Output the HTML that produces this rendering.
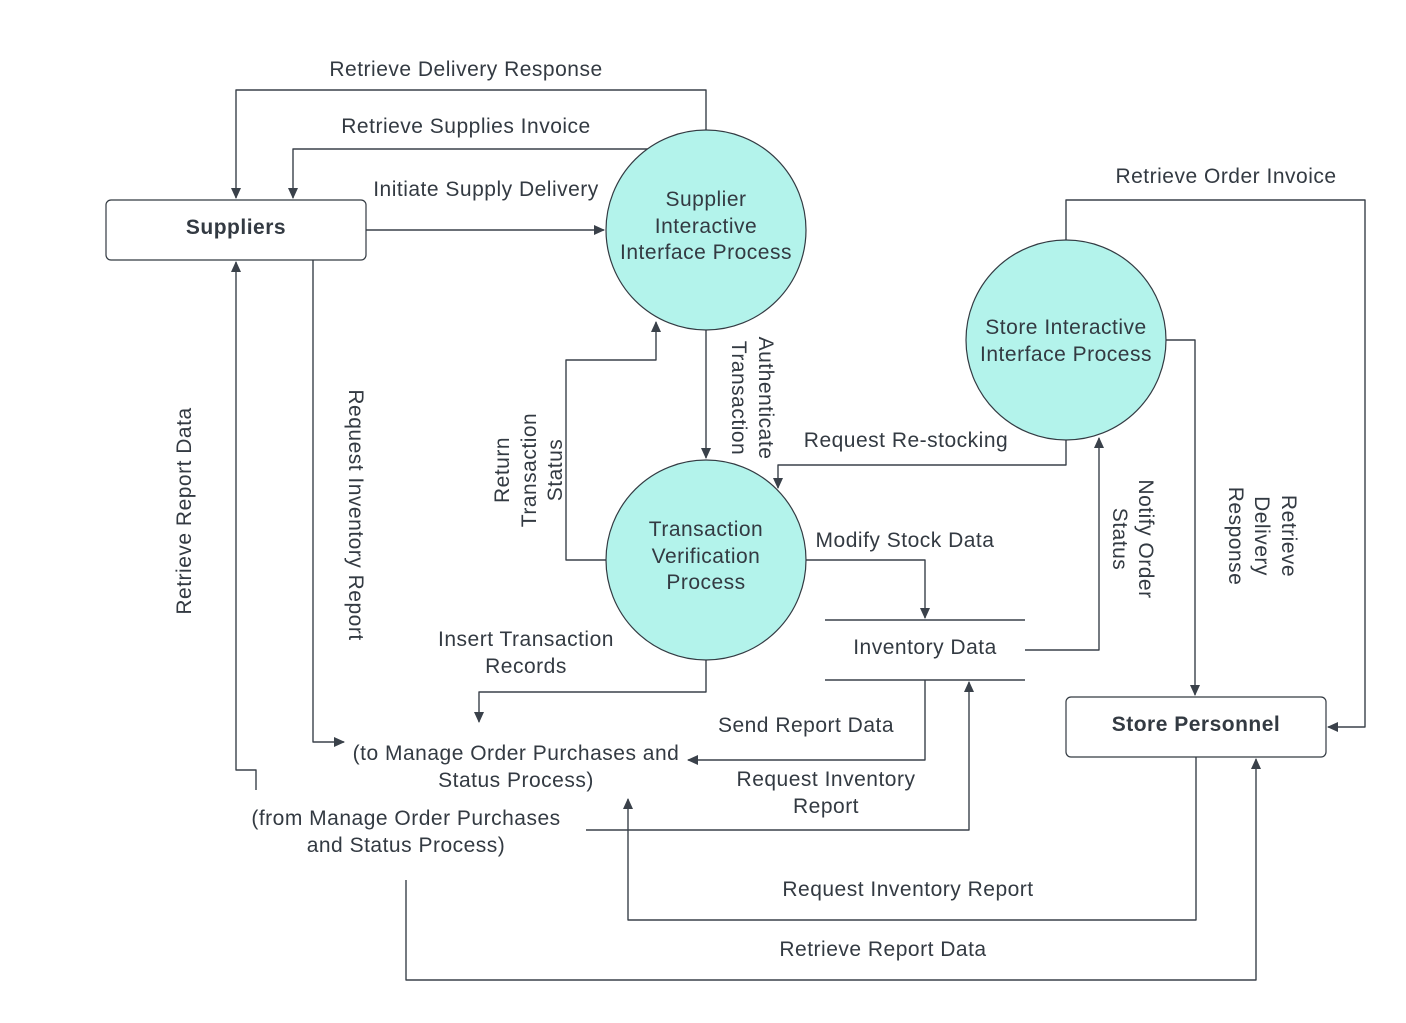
<!DOCTYPE html>
<html><head><meta charset="utf-8"><style>
html,body{margin:0;padding:0;background:#fff}
svg{display:block}
text{font-family:"Liberation Sans",Arial,sans-serif;font-size:21px;letter-spacing:0.5px;fill:#333a42}
</style></head><body>
<svg width="1406" height="1023" viewBox="0 0 1406 1023" xmlns="http://www.w3.org/2000/svg">
<defs><marker id="a" markerWidth="12" markerHeight="12" refX="10" refY="6" orient="auto" markerUnits="userSpaceOnUse"><path d="M0,1 L11,6 L0,11 Z" fill="#3a414a"/></marker></defs>
<g fill="none" stroke="#3a414a" stroke-width="1.4" stroke-linejoin="round">
<path d="M706,130 V90 H236 V198" marker-end="url(#a)"/>
<path d="M650,149 H293 V198" marker-end="url(#a)"/>
<path d="M366,230 H604" marker-end="url(#a)"/>
<path d="M313,260 V742 H344" marker-end="url(#a)"/>
<path d="M256,790 V770 H236 V262" marker-end="url(#a)"/>
<path d="M606,560 H566 V360 H656 V322" marker-end="url(#a)"/>
<path d="M706,330 V458" marker-end="url(#a)"/>
<path d="M1066,440 V465 H778 V488" marker-end="url(#a)"/>
<path d="M806,560 H925 V618" marker-end="url(#a)"/>
<path d="M1025,650 H1099 V438" marker-end="url(#a)"/>
<path d="M1066,240 V200 H1365 V727 H1328" marker-end="url(#a)"/>
<path d="M1166,340 H1195 V695" marker-end="url(#a)"/>
<path d="M706,660 V692 H479 V722" marker-end="url(#a)"/>
<path d="M925,680 V760 H688" marker-end="url(#a)"/>
<path d="M586,830 H969 V682" marker-end="url(#a)"/>
<path d="M1196,757 V920 H628 V799" marker-end="url(#a)"/>
<path d="M406,880 V980 H1256 V759" marker-end="url(#a)"/>
<path d="M825,620 H1025 M825,680 H1025"/>
</g>
<g stroke="#333a42" stroke-width="1.2">
<rect x="106" y="200" width="260" height="60" rx="5" fill="#fff"/>
<rect x="1066" y="697" width="260" height="60" rx="5" fill="#fff"/>
<circle cx="706" cy="230" r="100" fill="#b3f3eb"/>
<circle cx="706" cy="560" r="100" fill="#b3f3eb"/>
<circle cx="1066" cy="340" r="100" fill="#b3f3eb"/>
</g>
<g text-anchor="middle">
<text x="236" y="234" font-weight="bold">Suppliers</text>
<text x="1196" y="731" font-weight="bold">Store Personnel</text>
<text x="706" y="206">Supplier</text><text x="706" y="233">Interactive</text><text x="706" y="259">Interface Process</text>
<text x="706" y="536">Transaction</text><text x="706" y="563">Verification</text><text x="706" y="589">Process</text>
<text x="1066" y="334">Store Interactive</text><text x="1066" y="361">Interface Process</text>
<text x="466" y="76">Retrieve Delivery Response</text>
<text x="466" y="133">Retrieve Supplies Invoice</text>
<text x="486" y="196">Initiate Supply Delivery</text>
<text x="1226" y="183">Retrieve Order Invoice</text>
<text x="906" y="447">Request Re-stocking</text>
<text x="905" y="547">Modify Stock Data</text>
<text x="925" y="654">Inventory Data</text>
<text x="526" y="646">Insert Transaction</text><text x="526" y="673">Records</text>
<text x="806" y="732">Send Report Data</text>
<text x="516" y="760">(to Manage Order Purchases and</text><text x="516" y="787">Status Process)</text>
<text x="826" y="786">Request Inventory</text><text x="826" y="813">Report</text>
<text x="406" y="825">(from Manage Order Purchases</text><text x="406" y="852">and Status Process)</text>
<text x="908" y="896">Request Inventory Report</text>
<text x="883" y="956">Retrieve Report Data</text>
<text transform="translate(191,511) rotate(-90)">Retrieve Report Data</text>
<text transform="translate(349,515) rotate(90)">Request Inventory Report</text>
<text transform="translate(509,470) rotate(-90)">Return</text>
<text transform="translate(536,470) rotate(-90)">Transaction</text>
<text transform="translate(562,470) rotate(-90)">Status</text>
<text transform="translate(759,398) rotate(90)">Authenticate</text>
<text transform="translate(732,398) rotate(90)">Transaction</text>
<text transform="translate(1139,539) rotate(90)">Notify Order</text>
<text transform="translate(1113,539) rotate(90)">Status</text>
<text transform="translate(1282,536) rotate(90)">Retrieve</text>
<text transform="translate(1255,536) rotate(90)">Delivery</text>
<text transform="translate(1229,536) rotate(90)">Response</text>
</g>
</svg>
</body></html>
